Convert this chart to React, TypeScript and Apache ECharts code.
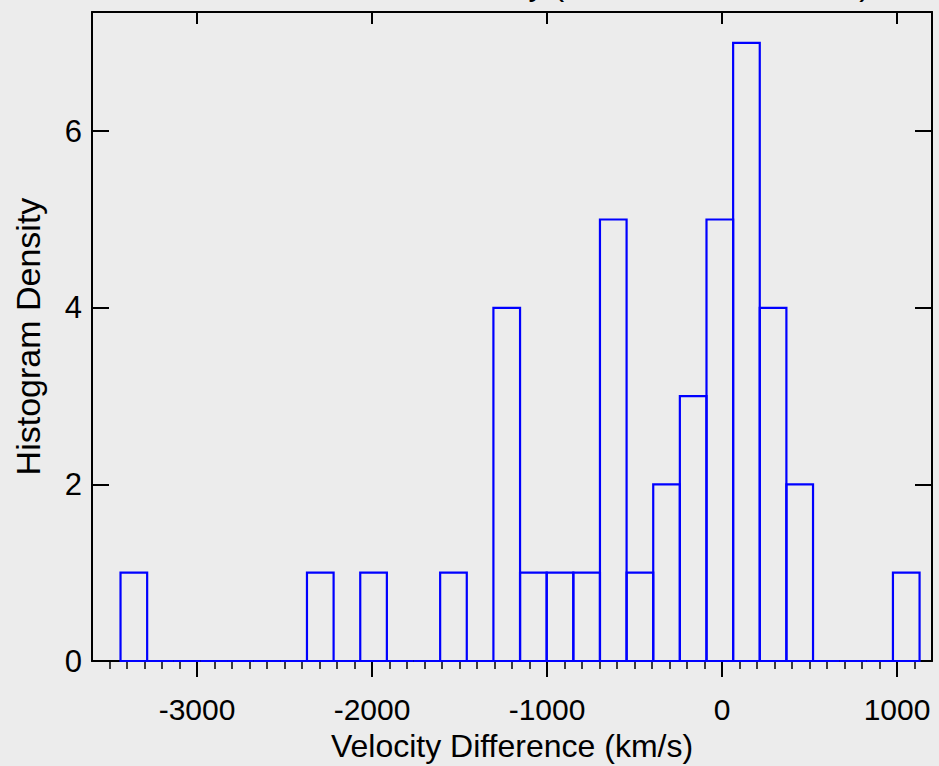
import React, { useEffect, useRef } from "react";
import * as echarts from "echarts";

// Histogram: 30 equal bins of velocity difference (km/s)
const binStart = -3437;
const binWidth = 152.2;
const binCounts = [
  1, 0, 0, 0, 0, 0, 0, 1, 0, 1,
  0, 0, 1, 0, 4, 1, 1, 1, 5, 1,
  2, 3, 5, 7, 4, 2, 0, 0, 0, 1,
];
const xMajorTicks = [-3000, -2000, -1000, 0, 1000];
const xMinorTicks = [
  -3500, -3400, -3300, -3200, -3100, -2900, -2800, -2700, -2600, -2500,
  -2400, -2300, -2200, -2100, -1900, -1800, -1700, -1600, -1500, -1400,
  -1300, -1200, -1100, -900, -800, -700, -600, -500, -400, -300, -200,
  -100, 100, 200, 300, 400, 500, 600, 700, 800, 900, 1100,
];
const yTicks = [0, 2, 4, 6];
const xRange = [-3600, 1200];
const yRange = [0, 7.35];
const xTitle = "Velocity Difference (km/s)";
const yTitle = "Histogram Density";
const chartTitle = "Cluster Member Density (41 Member Galaxies)";

const FONT = '"Liberation Sans", Arial, Helvetica, sans-serif';

export default function App() {
  const ref = useRef<HTMLDivElement>(null);
  useEffect(() => {
    if (!ref.current) return;
    const chart = echarts.init(ref.current, null, { renderer: "svg" });
    const data = binCounts.map((c, i) => [
      binStart + i * binWidth,
      binStart + (i + 1) * binWidth,
      c,
    ]);
    const black = "#000000";
    const line = { show: true, onZero: false, lineStyle: { color: black, width: 2 } };
    const option: any = {
      animation: false,
      backgroundColor: "#ececec",
      textStyle: { fontFamily: FONT },
      grid: {
        left: 92,
        right: 7,
        top: 12,
        bottom: 105,
        containLabel: false,
        outerBoundsMode: "none",
      },
      graphic: [
        {
          type: "text",
          x: 870,
          y: 0,
          silent: true,
          style: {
            text: chartTitle,
            textAlign: "right",
            textVerticalAlign: "bottom",
            fontSize: 32,
            fontFamily: FONT,
            fill: black,
          },
        },
      ],
      xAxis: [
        {
          type: "value",
          position: "bottom",
          min: xRange[0],
          max: xRange[1],
          axisLine: line,
          axisTick: {
            show: true,
            inside: false,
            length: 16,
            customValues: xMajorTicks,
            lineStyle: { color: black, width: 2 },
          },
          axisLabel: {
            show: true,
            customValues: xMajorTicks,
            formatter: (v: number) => String(v),
            fontSize: 30,
            color: black,
            margin: 33,
            fontFamily: FONT,
          },
          splitLine: { show: false },
          name: xTitle,
          nameLocation: "middle",
          nameGap: 69,
          nameMoveOverlap: false,
          nameTextStyle: { fontSize: 32, color: black, fontFamily: FONT },
        },
        {
          type: "value",
          position: "bottom",
          min: xRange[0],
          max: xRange[1],
          axisLine: { show: false, onZero: false },
          axisTick: {
            show: true,
            inside: false,
            length: 8,
            customValues: xMinorTicks,
            lineStyle: { color: black, width: 1.5 },
          },
          axisLabel: { show: false },
          splitLine: { show: false },
        },
        {
          type: "value",
          position: "top",
          min: xRange[0],
          max: xRange[1],
          axisLine: line,
          axisTick: {
            show: true,
            inside: true,
            length: 12,
            customValues: xMajorTicks,
            lineStyle: { color: black, width: 2 },
          },
          axisLabel: { show: false },
          splitLine: { show: false },
        },
      ],
      yAxis: [
        {
          type: "value",
          position: "left",
          min: yRange[0],
          max: yRange[1],
          axisLine: line,
          axisTick: {
            show: true,
            inside: true,
            length: 17,
            customValues: yTicks,
            lineStyle: { color: black, width: 2 },
          },
          axisLabel: {
            show: true,
            customValues: yTicks,
            formatter: (v: number) => String(v),
            fontSize: 31,
            color: black,
            margin: 10,
            fontFamily: FONT,
          },
          splitLine: { show: false },
          name: yTitle,
          nameLocation: "middle",
          nameGap: 47,
          nameMoveOverlap: false,
          nameTextStyle: { fontSize: 34, color: black, fontFamily: FONT },
        },
        {
          type: "value",
          position: "right",
          min: yRange[0],
          max: yRange[1],
          axisLine: line,
          axisTick: {
            show: true,
            inside: true,
            length: 17,
            customValues: yTicks,
            lineStyle: { color: black, width: 2 },
          },
          axisLabel: { show: false },
          splitLine: { show: false },
        },
      ],
      series: [
        {
          type: "custom",
          xAxisIndex: 0,
          yAxisIndex: 0,
          clip: false,
          z: 5,
          encode: { x: [0, 1], y: 2 },
          data,
          renderItem: (params: any, api: any) => {
            const x0 = api.value(0);
            const x1 = api.value(1);
            const c = api.value(2);
            const a = api.coord([x0, 0]);
            const b = api.coord([x1, c]);
            return {
              type: "polygon",
              shape: {
                points: [
                  [a[0], a[1]],
                  [a[0], b[1]],
                  [b[0], b[1]],
                  [b[0], a[1]],
                ],
              },
              style: { fill: "none", stroke: "#0000ff", lineWidth: 2.2 },
            };
          },
        },
      ],
    };
    chart.setOption(option);
    return () => chart.dispose();
  }, []);
  return (
    <div
      ref={ref}
      style={{ position: "fixed", left: 0, top: 0, width: 939, height: 766 }}
    />
  );
}
